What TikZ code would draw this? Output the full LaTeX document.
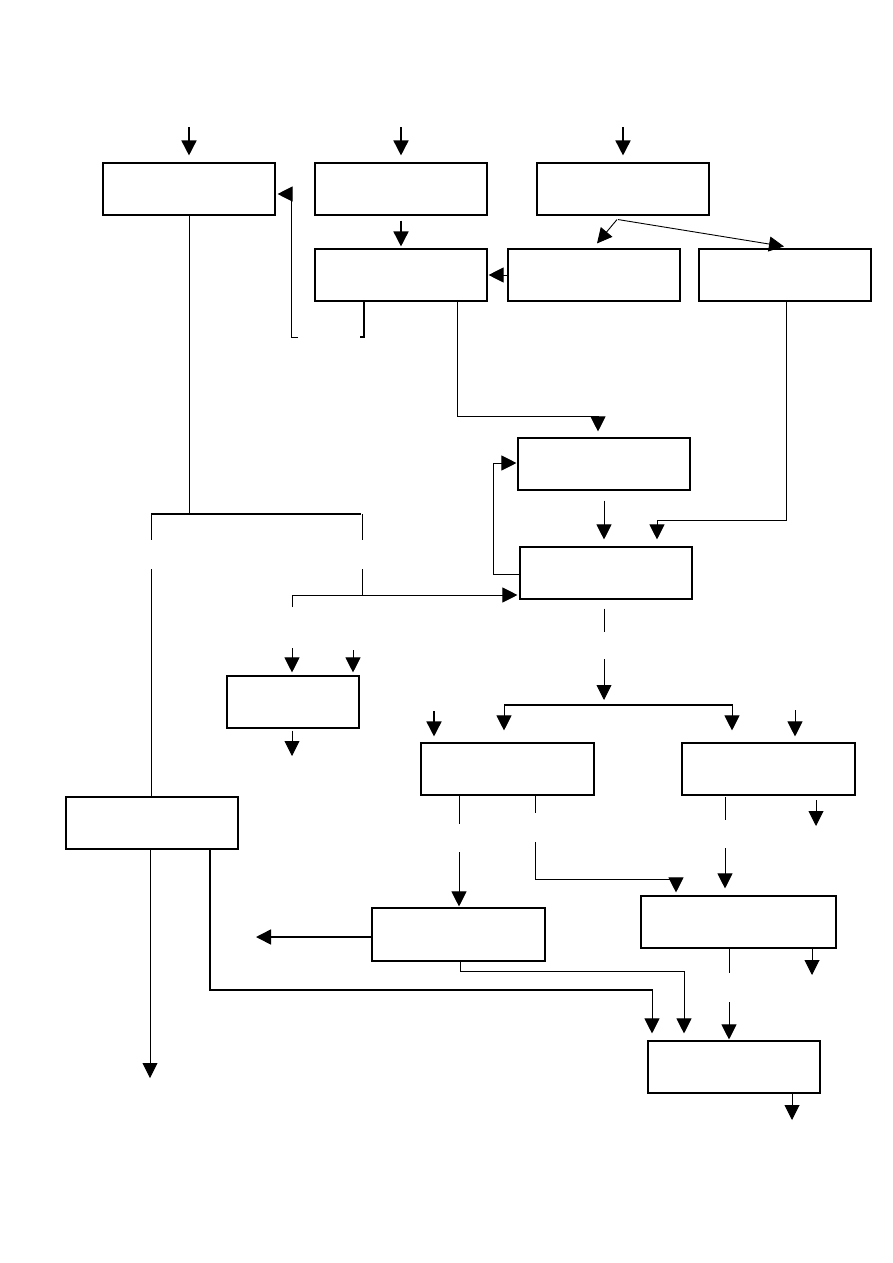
\documentclass[tikz,border=0pt]{standalone}
\usetikzlibrary{arrows.meta,calc}
\begin{document}
\begin{tikzpicture}[x=1pt,y=-1pt,
  box/.style={draw, line width=1.1pt, inner sep=0pt, minimum width=172pt, minimum height=52pt},
  arr/.style={-{Triangle[length=15pt,width=15pt]}, line width=0.9pt},
  tarr/.style={arr, line width=1.6pt},
  ln/.style={line width=0.9pt},
  thk/.style={line width=2pt}]
\useasboundingbox (0,0) rectangle (893,1263);
% boxes
\node[box] (B1) at (189,189) {};
\node[box] (B2) at (401,189) {};
\node[box] (B3) at (623,189) {};
\node[box] (B4) at (401,275) {};
\node[box] (B5) at (594,275) {};
\node[box] (B6) at (785,275) {};
\node[box] (B7) at (604,464) {};
\node[box] (B8) at (606,573) {};
\node[box, minimum width=132pt] (B9) at (293,702) {};
\node[box, minimum width=173pt] (B10) at (507.5,769) {};
\node[box, minimum width=173pt] (B11) at (768.5,769) {};
\node[box] (B12) at (152,823) {};
\node[box, minimum width=173pt, minimum height=53pt] (B13) at (458.5,934.5) {};
\node[box, minimum width=195pt] (B14) at (738.5,922) {};
\node[box] (B15) at (734,1067) {};
% top inputs
\draw[tarr] ($(B1.north)+(0,-35)$) -- ($(B1.north)+(0,-7)$);
\draw[tarr] ($(B2.north)+(0,-35)$) -- ($(B2.north)+(0,-7)$);
\draw[tarr] ($(B3.north)+(0,-35)$) -- ($(B3.north)+(0,-7)$);
% B2 -> B4
\draw[tarr] ($(B2.south)+(0,5)$) -- ($(B4.north)+(0,-2)$);
% B5 -> B4
\draw[arr] (B5.west) -- ($(B4.east)+(1,0)$);
% B3 -> B5, B6
\coordinate (b3o) at ($(B3.south)+(-6,4)$);
\draw[arr] (b3o) -- ($(B5.north)+(3,-5)$);
\draw[arr] ($(B3.south)+(-5,4)$) -- ($(B6.north)+(-1,-2)$);
% feedback B4 -> B1
\draw[thk] (364,301) -- (364,337) -- (360,337);
\coordinate (fb) at (291,337);
\draw[ln] (298,337) -- (fb);
\draw[arr] (fb) -- (291,194) -- ($(B1.east)+(2,5)$);
% B4 -> B7
\draw[arr] (457,301) -- (457,416) -- (598,416) -- ($(B7.north)+(-6,-6)$);
% B7 -> B8
\draw[arr] ($(B7.south)+(0,10)$) -- ($(B8.north)+(-2,-7)$);
% B6 -> B8
\draw[arr] (B6.south -| 786,0) -- (786,520) -- (657,520) -- ($(B8.north -| 657,0)+(0,-7)$);
% B8 -> B7 feedback
\draw[arr] (B8.west |- 0,574) -- (493,574) -- (493,463) -- ($(B7.west |- 0,463)+(-1,0)$);
% B1 down to split
\draw[ln] (B1.south) -- (189,514);
\draw[thk] (151,514) -- (361,514);
\draw[ln] (151,514) -- (151,540);
\draw[ln] (151,569) -- (B12.north -| 151,0);
\draw[ln] (362,514) -- (362,540);
\draw[ln] (362,569) -- (362,595);
\draw[arr] (292,595) -- ($(B8.west |- 0,595)+(-2,0)$);
\draw[ln] (292,607) -- (292,595);
% into B9
\draw[arr] (292,648) -- ($(B9.north -| 292,0)+(0,-3)$);
\draw[arr] (353,650) -- ($(B9.north -| 353,0)+(0,-3)$);
\draw[arr] ($(B9.south -| 292,0)+(0,2)$) -- (292,756);
% B8 down
\draw[ln] ($(B8.south -| 604,0)+(0,9)$) -- (604,632);
\draw[arr] (604,659) -- (604,700);
\draw[thk] (504,705) -- (732,705);
\draw[arr] (504,704) -- ($(B10.north -| 504,0)+(0,-12)$);
\draw[arr] (732,704) -- ($(B11.north -| 732,0)+(0,-12)$);
\draw[tarr] (434,711) -- ($(B10.north -| 434,0)+(0,-6)$);
\draw[arr] (795,710) -- ($(B11.north -| 795,0)+(0,-6)$);
% B10 out
\draw[ln] (B10.south -| 459,0) -- (459,824);
\draw[arr] (459,852) -- ($(B13.north -| 459,0)+(0,-1)$);
\draw[ln] (B10.south -| 535,0) -- (535,813);
\draw[arr] (535,842) -- (535,879) -- (676,879) -- ($(B14.north -| 676,0)+(0,-3)$);
% B11 out
\draw[ln] (725,797) -- (725,820);
\draw[arr] (725,848) -- ($(B14.north -| 725,0)+(0,-7)$);
\draw[arr] (816,800) -- (816,826);
% B12 out
\draw[arr] (B12.south -| 150,0) -- (150,1078);
\draw[thk] (B12.south -| 210,0) -- (210,990) -- (652,990);
\draw[arr] (652,989) -- ($(B15.north -| 652,0)+(0,-7)$);
% B13 out
\draw[arr, line width=1.6pt] (B13.west |- 0,937) -- (256,937);
\draw[arr] (B13.south -| 460,0) -- (460,971) -- (684,971) -- ($(B15.north -| 684,0)+(0,-7)$);
% B14 out
\draw[ln] (B14.south -| 729,0) -- (729,973);
\draw[arr] (729,1002) -- ($(B15.north -| 729,0)+(0,-1)$);
\draw[arr] (B14.south -| 812,0) -- (812,975);
% B15 out
\draw[arr] (B15.south -| 792,0) -- (792,1120);
\end{tikzpicture}
\end{document}
